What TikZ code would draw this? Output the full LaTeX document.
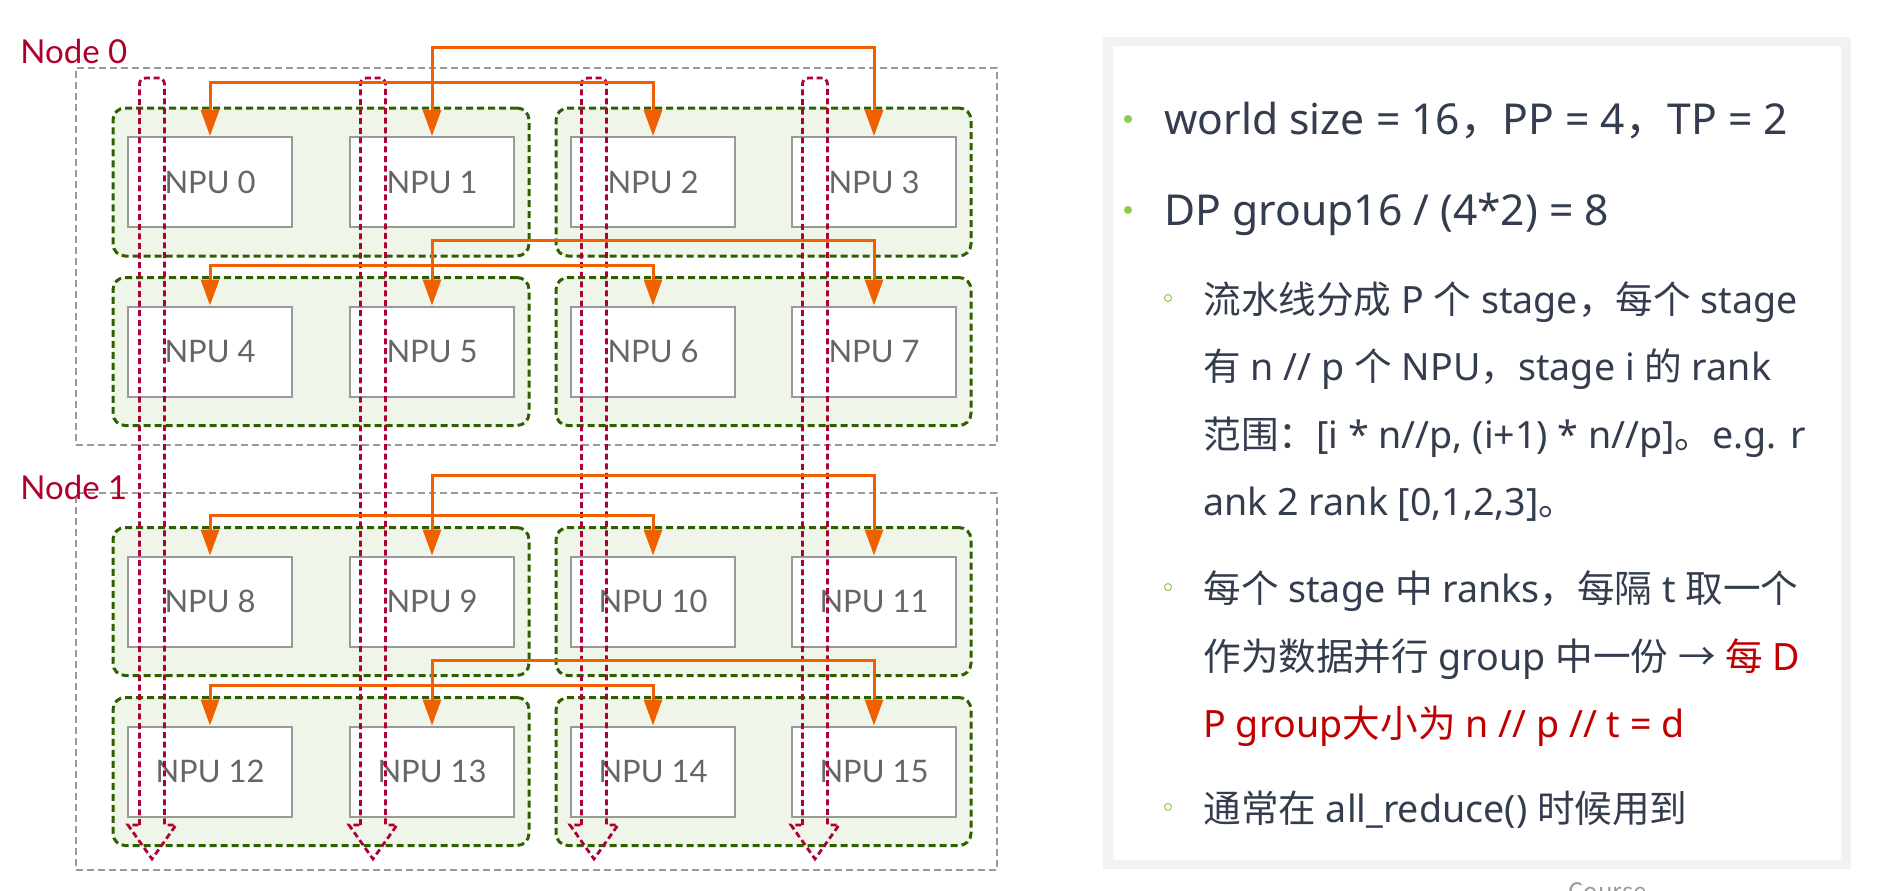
\documentclass[tikz,border=0pt]{standalone}
\usepackage{fontspec}
\newfontfamily\npufont{Lato}
\newfontfamily\latinfont{Noto Sans}
\newfontfamily\cjkfont{Noto Sans CJK SC}
\newcommand{\zh}[1]{{\cjkfont #1}}
\usepackage{tikz}
\usetikzlibrary{arrows.meta, positioning, fit, backgrounds}
\definecolor{NodeRed}{HTML}{B0002A}
\definecolor{FlowOrange}{HTML}{F06000}
\definecolor{GroupGreen}{HTML}{2F6000}
\definecolor{GroupFill}{HTML}{EFF6E9}
\definecolor{BoxGray}{HTML}{999999}
\definecolor{LabelGray}{HTML}{666666}
\definecolor{DPRed}{HTML}{AE0035}
\definecolor{TextDark}{HTML}{333D4F}
\definecolor{TextRed}{HTML}{C00000}
\definecolor{BulletGreen}{HTML}{8CCB4B}
\definecolor{PanelGray}{HTML}{F2F2F2}
\tikzset{
  npubox/.style={rectangle, draw=BoxGray, fill=white, line width=1pt, minimum width=82pt, minimum height=45pt, inner sep=0pt, font=\npufont\fontsize{15.5}{18}\selectfont, text=LabelGray},
  groupbox/.style={rectangle, rounded corners=6pt, draw=GroupGreen, fill=GroupFill, line width=1.5pt, dash pattern=on 3.5pt off 2pt, inner xsep=7pt, inner ysep=14pt},
  nodebox/.style={rectangle, draw=BoxGray, line width=0.75pt, dash pattern=on 3.5pt off 2pt, minimum width=460.5pt, minimum height=188.5pt},
  nodelabel/.style={anchor=base west, inner sep=0pt, font=\npufont\fontsize{16.5}{19}\selectfont, text=NodeRed},
  flowarrow/.style={{Triangle[length=13pt,width=9pt]}-{Triangle[length=13pt,width=9pt]}, line width=1.5pt, FlowOrange},
  dparrow/.style={draw=DPRed, line width=1.4pt, dash pattern=on 3pt off 1.8pt},
  paneltext/.style={anchor=base west, inner sep=0pt, font=\latinfont\fontsize{18.8}{22}\selectfont, text=TextDark},
  panelhead/.style={paneltext, font=\latinfont\fontsize{21.3}{25}\selectfont},
  bulletdot/.style={circle, fill=BulletGreen, minimum size=4pt, inner sep=0pt},
  subdot/.style={circle, draw=BulletGreen, line width=0.5pt, minimum size=3.5pt, inner sep=0pt}
}
\begin{document}
\begin{tikzpicture}[x=0.5pt, y=-0.5pt]
  \useasboundingbox (0,0) rectangle (1892,890);

  % node frames
  \node[nodebox] (node0) at (536.5,256.5) {};
  \node[nodebox] (node1) at (536.5,681.5) {};
  \node[nodelabel] (label0) at (20,63) {Node 0};
  \node[nodelabel] (label1) at (20,499) {Node 1};

  % NPUs
  \node[npubox] (npu0) at (210,182) {NPU 0};
  \node[npubox] (npu1) at (432,182) {NPU 1};
  \node[npubox] (npu2) at (653,182) {NPU 2};
  \node[npubox] (npu3) at (874,182) {NPU 3};
  \node[npubox] (npu4) at (210,351.5) {NPU 4};
  \node[npubox] (npu5) at (432,351.5) {NPU 5};
  \node[npubox] (npu6) at (653,351.5) {NPU 6};
  \node[npubox] (npu7) at (874,351.5) {NPU 7};
  \node[npubox] (npu8) at (210,601.5) {NPU 8};
  \node[npubox] (npu9) at (432,601.5) {NPU 9};
  \node[npubox] (npu10) at (653,601.5) {NPU 10};
  \node[npubox] (npu11) at (874,601.5) {NPU 11};
  \node[npubox] (npu12) at (210,771.5) {NPU 12};
  \node[npubox] (npu13) at (432,771.5) {NPU 13};
  \node[npubox] (npu14) at (653,771.5) {NPU 14};
  \node[npubox] (npu15) at (874,771.5) {NPU 15};

  % TP groups
  \begin{scope}[on background layer]
    \node[groupbox, fit=(npu0)(npu1)] (tp0) {};
    \node[groupbox, fit=(npu2)(npu3)] (tp1) {};
    \node[groupbox, fit=(npu4)(npu5)] (tp2) {};
    \node[groupbox, fit=(npu6)(npu7)] (tp3) {};
    \node[groupbox, fit=(npu8)(npu9)] (tp4) {};
    \node[groupbox, fit=(npu10)(npu11)] (tp5) {};
    \node[groupbox, fit=(npu12)(npu13)] (tp6) {};
    \node[groupbox, fit=(npu14)(npu15)] (tp7) {};
  \end{scope}

  % DP groups
  \draw[dparrow] (139.5,825) [rounded corners=3pt] -- (139.5,78) -- (164.5,78) -- (164.5,200) [sharp corners] -- (164.5,825) -- (176,825) -- (152,859) -- (128,825) -- cycle;
  \draw[dparrow] (360.5,825) [rounded corners=3pt] -- (360.5,78) -- (385.5,78) -- (385.5,200) [sharp corners] -- (385.5,825) -- (397,825) -- (373,859) -- (349,825) -- cycle;
  \draw[dparrow] (581.5,825) [rounded corners=3pt] -- (581.5,78) -- (606.5,78) -- (606.5,200) [sharp corners] -- (606.5,825) -- (618,825) -- (594,859) -- (570,825) -- cycle;
  \draw[dparrow] (802.5,825) [rounded corners=3pt] -- (802.5,78) -- (827.5,78) -- (827.5,200) [sharp corners] -- (827.5,825) -- (839,825) -- (815,859) -- (791,825) -- cycle;

  % PP links
  \draw[flowarrow] (npu1.north) -- ++(0,-89) -| (npu3.north);
  \draw[flowarrow] (npu0.north) -- ++(0,-54) -| (npu2.north);
  \draw[flowarrow] (npu5.north) -- ++(0,-65) -| (npu7.north);
  \draw[flowarrow] (npu4.north) -- ++(0,-40) -| (npu6.north);
  \draw[flowarrow] (npu9.north) -- ++(0,-80) -| (npu11.north);
  \draw[flowarrow] (npu8.north) -- ++(0,-40) -| (npu10.north);
  \draw[flowarrow] (npu13.north) -- ++(0,-65) -| (npu15.north);
  \draw[flowarrow] (npu12.north) -- ++(0,-40) -| (npu14.north);

  % notes panel
  \node[rectangle, fill=PanelGray, minimum width=374pt, minimum height=416pt, inner sep=0pt] (panel) at (1477,453) {};
  \node[rectangle, fill=white, minimum width=364pt, minimum height=407pt, inner sep=0pt] (sheet) at (1477,453) {};
  \node[bulletdot] (dot1) at (1128,119) {};
  \node[panelhead] (line1) at (1164,134) {world size = 16\zh{，}PP = 4\zh{，}TP = 2};
  \node[bulletdot] (dot2) at (1128,210) {};
  \node[panelhead] (line2) at (1164,225) {DP group16 / (4*2) = 8};
  \node[subdot] (sub1) at (1168,298) {};
  \node[paneltext] (line3) at (1203,313) {\zh{流水线分成} P \zh{个} stage\zh{，每个} stage};
  \node[paneltext] (line4) at (1203,380) {\zh{有} n // p \zh{个} NPU\zh{，}stage i \zh{的} rank};
  \node[paneltext] (line5) at (1203,448) {\zh{范围：}[i * n//p, (i+1) * n//p]\zh{。}e.g. r};
  \node[paneltext] (line6) at (1203,515) {ank 2 rank [0,1,2,3]\zh{。}};
  \node[subdot] (sub2) at (1168,587) {};
  \node[paneltext] (line7) at (1203,602) {\zh{每个} stage \zh{中} ranks\zh{，每隔} t \zh{取一个}};
  \node[paneltext] (line8) at (1203,670) {\zh{作为数据并行} group \zh{中一份} \zh{→} \textcolor{TextRed}{\zh{每} D}};
  \node[paneltext, text=TextRed] (line9) at (1203,737) {P group\zh{大小为} n // p // t = d};
  \node[subdot] (sub3) at (1168,807) {};
  \node[paneltext] (line10) at (1203,822) {\zh{通常在} all\_reduce() \zh{时候用到}};
  \node[anchor=base west, inner sep=0pt, font=\cjkfont\fontsize{12}{14}\selectfont, text=BoxGray] (source) at (1568,900) {Course};
\end{tikzpicture}
\end{document}
